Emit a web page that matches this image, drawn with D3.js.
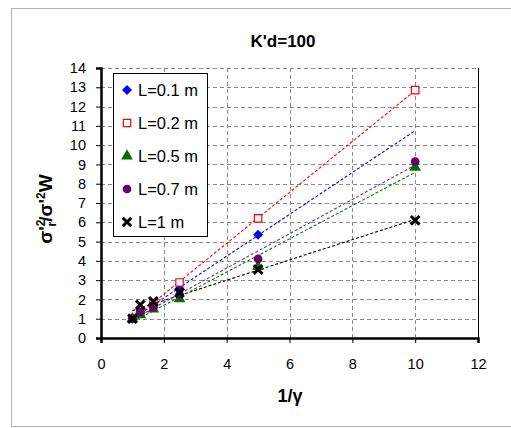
<!DOCTYPE html>
<html>
<head>
<meta charset="utf-8">
<script src="https://cdn.jsdelivr.net/npm/d3@7"></script>
<style>
  body { margin: 0; background: #fff; }
  text { font-family: "Liberation Sans", Arial, sans-serif; }
</style>
</head>
<body>
<script>
// 1/gamma values
var xVals = [1, 1.25, 1.667, 2.5, 5, 10];

var seriesNames = ["L=0.1 m", "L=0.2 m", "L=0.5 m", "L=0.7 m", "L=1 m"];
var L01 = [1.0, 1.3, 1.7, 2.55, 5.35];
var L02 = [1.0, 1.3, 1.8, 2.88, 6.2, 12.85];
var L05 = [1.0, 1.2, 1.5, 2.03, 3.7, 8.85];
var L07 = [1.0, 1.35, 1.6, 2.25, 4.1, 9.15];
var L1  = [1.0, 1.72, 1.9, 2.35, 3.55, 6.1];

var xTicks = [0, 2, 4, 6, 8, 10, 12];
var yTicks = d3.range(0, 15);

var colors = ["#0000ff", "#ff0000", "#007000", "#660066", "#000000"];
var lineColors = ["#0000ff", "#ff0000", "#008000", "#7030a0", "#000000"];

// square turned 45 degrees, like the spreadsheet diamond
var diamond = {
  draw: function(ctx, size) {
    var r = Math.sqrt(size / 2);
    ctx.moveTo(0, -r); ctx.lineTo(r, 0); ctx.lineTo(0, r); ctx.lineTo(-r, 0); ctx.closePath();
  }
};
var symbols = [diamond, d3.symbolSquare, d3.symbolTriangle, d3.symbolCircle, d3.symbolTimes];

var allSeries = [L01, L02, L05, L07, L1].map(function(vals, i) {
  return {
    name: seriesNames[i],
    pts: vals.map(function(v, j) { return [xVals[j], v]; }),
    color: colors[i], lcolor: lineColors[i], sym: symbols[i], idx: i
  };
});

var W = 511, H = 428;
var svg = d3.select("body").append("svg").attr("width", W).attr("height", H);

// outer chart border
svg.append("rect").attr("x", 11.5).attr("y", 8.5).attr("width", 510).attr("height", 418)
  .attr("fill", "#fff").attr("stroke", "#b0b0b0");

var pLeft = 101, pRight = 478, pTop = 68, pBottom = 338;
var x = d3.scaleLinear().domain([0, 12]).range([pLeft, pRight]);
var y = d3.scaleLinear().domain([0, 14]).range([pBottom, pTop]);

// grid
svg.append("g").selectAll("line").data(yTicks.slice(1)).enter().append("line")
  .attr("x1", pLeft).attr("x2", pRight)
  .attr("y1", function(d) { return Math.round(y(d)) + 0.5; })
  .attr("y2", function(d) { return Math.round(y(d)) + 0.5; })
  .attr("stroke", "#8a8a8a").attr("stroke-dasharray", "4,3");
svg.append("g").selectAll("line").data(xTicks.slice(1, -1)).enter().append("line")
  .attr("y1", pTop).attr("y2", pBottom)
  .attr("x1", function(d) { return Math.round(x(d)) + 0.5; })
  .attr("x2", function(d) { return Math.round(x(d)) + 0.5; })
  .attr("stroke", "#8a8a8a").attr("stroke-dasharray", "4,3");
svg.append("line").attr("x1", pRight + 0.5).attr("x2", pRight + 0.5).attr("y1", pTop).attr("y2", pBottom)
  .attr("stroke", "#000");

// axes
var xAxis = d3.axisBottom(x).tickValues(xTicks).tickSize(5).tickPadding(16);
var yAxis = d3.axisLeft(y).tickValues(yTicks).tickSize(5).tickPadding(10);
var gx = svg.append("g").attr("transform", "translate(0," + pBottom + ")").call(xAxis);
var gy = svg.append("g").attr("transform", "translate(" + pLeft + ",0)").call(yAxis);
[gx, gy].forEach(function(g) {
  g.attr("font-size", 14.5).attr("font-family", "'Liberation Sans', Arial, sans-serif");
  g.select(".domain").attr("stroke", "#000").attr("stroke-width", 2.5);
  g.selectAll(".tick line").attr("stroke", "#000");
  g.selectAll(".tick text").attr("fill", "#000");
});

// linear trendlines (least squares), drawn from x=1 to x=10
function fit(pts) {
  var mx = d3.mean(pts, function(p) { return p[0]; });
  var my = d3.mean(pts, function(p) { return p[1]; });
  var sxy = d3.sum(pts, function(p) { return (p[0] - mx) * (p[1] - my); });
  var sxx = d3.sum(pts, function(p) { return (p[0] - mx) * (p[0] - mx); });
  var b = sxy / sxx;
  return { b: b, a: my - b * mx };
}
var trendOrder = [4, 2, 3, 0, 1];
trendOrder.forEach(function(i) {
  var s = allSeries[i];
  var f = fit(s.pts);
  svg.append("line")
    .attr("x1", x(1)).attr("y1", y(f.a + f.b * 1))
    .attr("x2", x(10)).attr("y2", y(f.a + f.b * 10))
    .attr("stroke", s.lcolor).attr("stroke-width", 1.1).attr("stroke-dasharray", "3,2");
});

function drawMarker(g, s, cx, cy) {
  var sizes = [50, 55, 60, 60, 50];
  var p = g.append("path").attr("d", d3.symbol().type(s.sym).size(sizes[s.idx])())
    .attr("transform", "translate(" + cx + "," + cy + ")");
  if (s.idx === 1) {
    p.attr("fill", "#fff").attr("stroke", s.color).attr("stroke-width", 1.2);
  } else if (s.idx === 4) {
    p.attr("fill", "none").attr("stroke", s.color).attr("stroke-width", 3);
  } else {
    p.attr("fill", s.color);
  }
}

// markers
allSeries.forEach(function(s) {
  var g = svg.append("g");
  s.pts.forEach(function(p) { drawMarker(g, s, x(p[0]), y(p[1])); });
});

// legend
var lg = svg.append("g");
lg.append("rect").attr("x", 113.5).attr("y", 73.5).attr("width", 94).attr("height", 163)
  .attr("fill", "#fff").attr("stroke", "#000");
allSeries.forEach(function(s, i) {
  var cy = 90 + i * 33;
  drawMarker(lg, s, 127, cy);
  lg.append("text").attr("x", 138).attr("y", cy + 6).attr("font-size", 16.5)
    .attr("fill", "#000").text(s.name);
});

// title
svg.append("text").attr("x", 283).attr("y", 47).attr("text-anchor", "middle")
  .attr("font-size", 17).attr("font-weight", "bold").text("K'd=100");

// x label
svg.append("text").attr("x", 290).attr("y", 402).attr("text-anchor", "middle")
  .attr("font-size", 18).attr("font-weight", "bold").text("1/\u03b3");

// y label
var yl = svg.append("text").attr("transform", "translate(52,209) rotate(-90)")
  .attr("text-anchor", "middle").attr("font-size", 19).attr("font-weight", "bold");
yl.append("tspan").text("\u03c3'");
yl.append("tspan").attr("font-size", 12).attr("dy", -7).text("2");
yl.append("tspan").attr("font-size", 12).attr("dy", 11).attr("dx", -7).text("r");
yl.append("tspan").attr("dy", -4).text("/\u03c3'");
yl.append("tspan").attr("font-size", 12).attr("dy", -7).text("2");
yl.append("tspan").attr("dy", 7).text("W");
</script>
</body>
</html>
